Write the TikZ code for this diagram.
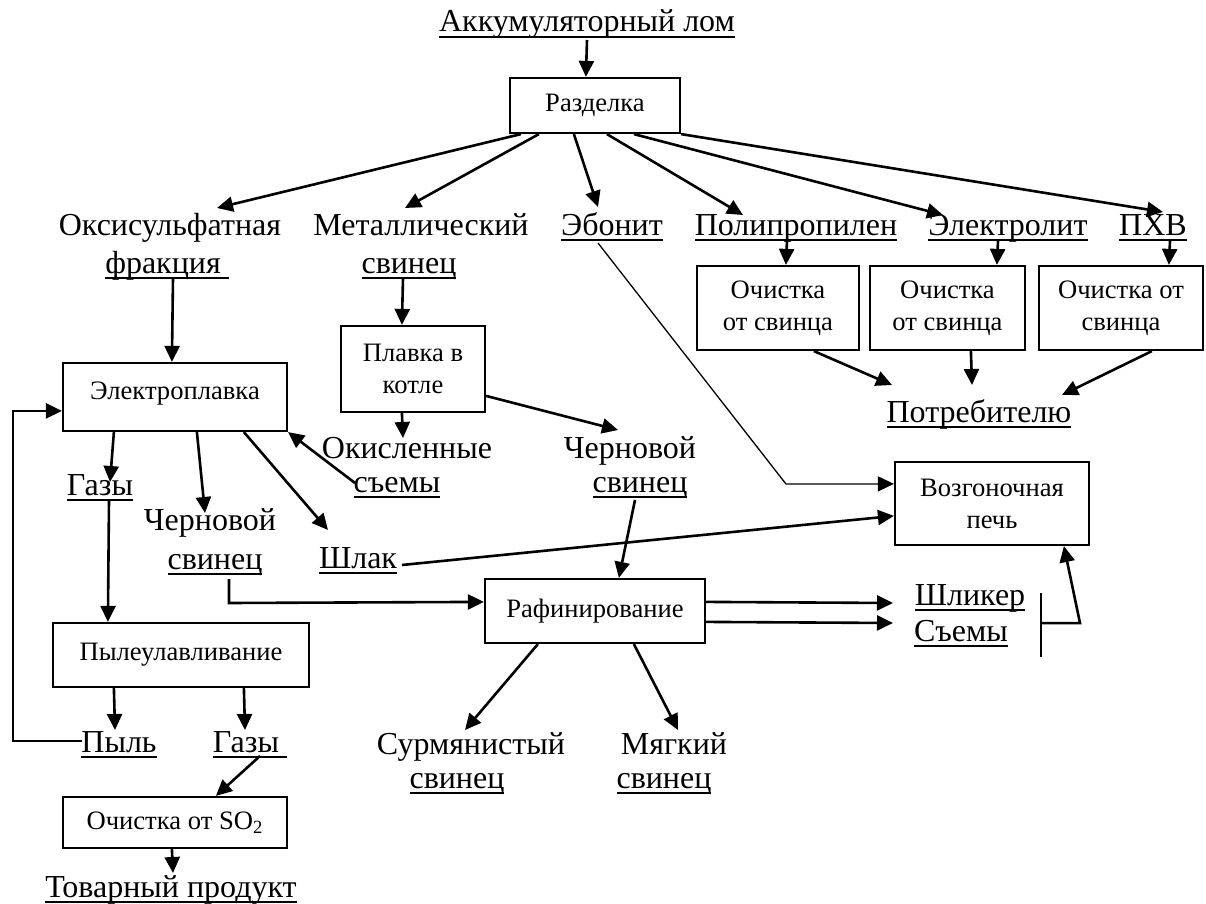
\documentclass[tikz,border=0pt]{standalone}
\usepackage{fontspec}
\setmainfont{Liberation Serif}
\usetikzlibrary{arrows.meta,calc}
\newsavebox\ulbox
\newcommand\myul[1]{\sbox\ulbox{#1}\rlap{\rule[-3.2pt]{\wd\ulbox}{1pt}}\usebox\ulbox}
\newcommand\bigtxt{\fontsize{16}{19}\selectfont}
\newcommand\smalltxt{\fontsize{13.3}{16}\selectfont}
\tikzset{
 lbl/.style={font=\bigtxt, inner sep=0pt, anchor=base},
 proc/.style={draw, line width=1.1pt, font=\smalltxt, align=center, inner sep=1pt},
 arr/.style={-{Triangle[length=8pt,width=7.5pt]}, line width=1.3pt},
 ln/.style={line width=1.3pt},
 thinarr/.style={-{Triangle[length=8pt,width=7.5pt]}, line width=0.65pt},
}
\begin{document}
\begin{tikzpicture}[x=0.5pt,y=-0.5pt]
\fill[white] (0,0) rectangle (1206,904);
\useasboundingbox (0,0) rectangle (1206,904);

% boxes
\node[proc, minimum width=85pt, minimum height=27.5pt] (razd) at (595,105.5) {Разделка};
\node[proc, minimum width=81pt, minimum height=42pt] (och1) at (778,308) {Очистка\\от свинца};
\node[proc, minimum width=77.5pt, minimum height=42pt] (och2) at (947.5,308) {Очистка\\от свинца};
\node[proc, minimum width=82pt, minimum height=42pt] (och3) at (1121,308) {Очистка от\\свинца};
\node[proc, minimum width=72pt, minimum height=43pt] (plav) at (413,369) {Плавка в\\котле};
\node[proc, minimum width=112pt, minimum height=34pt, text depth=6pt] (elp) at (175,397) {Электроплавка};
\node[proc, minimum width=97pt, minimum height=41.5pt] (vozg) at (992,503.5) {Возгоночная\\печь};
\node[proc, minimum width=110pt, minimum height=32pt] (raf) at (595,611) {Рафинирование};
\node[proc, minimum width=128pt, minimum height=32pt] (pyl) at (181,655) {Пылеулавливание};
\node[proc, minimum width=112pt, minimum height=25.5pt] (so2) at (175,822.5) {Очистка от SO\textsubscript{2}};

% labels
\node[lbl] (akk) at (587,32) {\myul{Аккумуляторный лом}};
\node[lbl] (oks1) at (170,235) {Оксисульфатная};
\node[lbl] (oks2) at (167,273) {\myul{фракция\ }};
\node[lbl] (met1) at (421,235) {Металлический};
\node[lbl] (met2) at (409,273) {\myul{свинец}};
\node[lbl] (ebon) at (612,235) {\myul{Эбонит}};
\node[lbl] (poli) at (796,235) {\myul{Полипропилен}};
\node[lbl] (elek) at (1008,235) {\myul{Электролит}};
\node[lbl] (pxv) at (1153,235) {\myul{ПХВ}};
\node[lbl] (potr) at (979,422) {\myul{Потребителю}};
\node[lbl] (okis1) at (407,458) {Окисленные};
\node[lbl] (okis2) at (397,492) {\myul{съемы}};
\node[lbl] (cher1) at (630,458) {Черновой};
\node[lbl] (cher2) at (640,492) {\myul{свинец}};
\node[lbl] (gaz1) at (100,495) {\myul{Газы}};
\node[lbl] (lcher1) at (210,530) {Черновой};
\node[lbl] (lcher2) at (215,569) {\myul{свинец}};
\node[lbl] (shlak) at (358,568) {\myul{Шлак}};
\node[lbl] (shlik) at (970,605) {\myul{Шликер}};
\node[lbl] (sem) at (961,641) {\myul{Съемы}};
\node[lbl] (surm1) at (471,754) {Сурмянистый};
\node[lbl] (surm2) at (457,788) {\myul{свинец}};
\node[lbl] (mjag1) at (674,754) {Мягкий};
\node[lbl] (mjag2) at (664,788) {\myul{свинец}};
\node[lbl] (pylb) at (119,752) {\myul{Пыль}};
\node[lbl] (gaz2) at (250,752) {\myul{Газы\ }};
\node[lbl] (tov) at (171,897) {\myul{Товарный продукт}};

% connectors
\draw[arr] ($(akk.base)+(0,8)$) -- ($(razd.north west)+(77,0)$);
\draw[arr] ($(razd.south west)+(12,0)$) -- ($(oks1.base)+(47,-27)$);
\draw[arr] ($(razd.south west)+(30,0)$) -- ($(met1.base)+(-16,-27)$);
\draw[arr] ($(razd.south west)+(65,0)$) -- ($(ebon.base)+(-14,-28)$);
\draw[arr] ($(razd.south west)+(98,0)$) -- ($(poli.base)+(-53,-20)$);
\draw[arr] ($(razd.south west)+(125,0)$) -- ($(elek.base)+(-65,-20)$);
\draw[arr] (razd.south east) -- ($(pxv.base)+(10,-23)$);

\draw[arr] ($(poli.base)+(-9,6)$) -- ($(och1.north west)+(90,0)$);
\draw[arr] ($(elek.base)+(-10,6)$) -- ($(och2.north west)+(128,0)$);
\draw[arr] ($(pxv.base)+(17,6)$) -- ($(och3.north west)+(131,0)$);
\draw[arr] ($(och1.south west)+(118,0)$) -- ($(potr.base)+(-87,-37)$);
\draw[arr] ($(och2.south west)+(102,0)$) -- ($(potr.base)+(-7,-37)$);
\draw[arr] ($(och3.south west)+(114,0)$) -- ($(potr.base)+(83,-27)$);

\draw[arr] ($(oks2.base)+(6,5)$) -- ($(elp.north west)+(110,0)$);
\draw[arr] ($(met2.base)+(-6,5)$) -- ($(plav.north west)+(62,0)$);
\draw[arr] ($(plav.south west)+(62,0)$) -- ($(okis1.base)+(-4,-20)$);
\draw[arr] ($(plav.north east)+(0,71)$) -- ($(cher1.base)+(-12,-28)$);

\draw[thinarr] ($(ebon.base)+(-14,8)$) -- ($(vozg.north west)+(-108,23)$) -- ($(vozg.north west)+(0,23)$);

\draw[arr] ($(elp.south west)+(52,0)$) -- ($(gaz1.base)+(10,-13)$);
\draw[arr] ($(gaz1.base)+(9,5)$) -- ($(pyl.north west)+(56,0)$);
\draw[arr] ($(elp.south west)+(135,0)$) -- ($(lcher1.base)+(-5,-17)$);
\draw[arr] ($(elp.south west)+(182,0)$) -- ($(shlak.base)+(-30,-38)$);
\draw[arr] ($(okis2.base)+(-42,-9)$) -- (elp.south east);
\draw[arr] ($(lcher2.base)+(14,10)$) -- ++(0,24) -- ($(raf.north west)+(0,24)$);
\draw[arr] ($(shlak.base)+(44,-3)$) -- ($(vozg.north west)+(0,55)$);
\draw[arr] ($(cher2.base)+(-5,8)$) -- ($(raf.north west)+(135,0)$);

\draw[arr] ($(raf.north east)+(0,24)$) -- ($(shlik.base)+(-77,-2)$);
\draw[arr] ($(raf.north east)+(0,44)$) -- ($(sem.base)+(-68,-18)$);
\coordinate (brtop) at ($(shlik.base)+(71,-12)$);
\coordinate (brbot) at ($(sem.base)+(80,16)$);
\coordinate (brmid) at ($(brtop)!0.47!(brbot)$);
\draw[ln] (brtop) -- (brbot);
\draw[arr] (brmid) -- ++(39,0) -- ($(vozg.south west)+(170,0)$);

\draw[arr] ($(raf.south west)+(54,0)$) -- ($(surm1.base)+(-6,-24)$);
\draw[arr] ($(raf.south west)+(150,0)$) -- ($(mjag1.base)+(4,-24)$);

\draw[arr] ($(pyl.south west)+(62,0)$) -- ($(pylb.base)+(-4,-22)$);
\draw[arr] ($(pyl.south west)+(192,0)$) -- ($(gaz2.base)+(-5,-22)$);
\draw[arr] ($(pylb.base)+(-37,-11)$) -- ++(-69,0) |- ($(elp.north west)+(0,49)$);
\draw[arr] ($(gaz2.base)+(10,4)$) -- ($(so2.north west)+(154,0)$);
\draw[arr] ($(so2.south west)+(110,0)$) -- ($(tov.base)+(2,-24)$);
\end{tikzpicture}
\end{document}
